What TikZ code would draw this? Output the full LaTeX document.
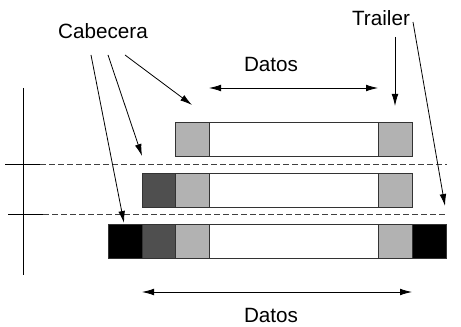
\documentclass[tikz,border=0pt]{standalone}
\usepackage{fontspec}
\setmainfont{Liberation Sans}
\usetikzlibrary{arrows.meta,positioning}

\definecolor{hdrlight}{gray}{0.70}
\definecolor{hdrdark}{gray}{0.31}

\tikzset{
  cell/.style={draw=black!80, line width=0.6pt, minimum width=25.5pt, minimum height=25.5pt, inner sep=0pt, outer sep=0pt},
  payload/.style={cell, minimum width=126.75pt, fill=white},
  lbl/.style={font=\fontsize{15.5}{18}\selectfont, inner sep=1pt},
  pointer/.style={line width=0.6pt, -{Latex[length=9pt,width=5pt]}},
  span/.style={line width=0.6pt, {Latex[length=9pt,width=5pt]}-{Latex[length=9pt,width=5pt]}},
  level/.style={dashed, dash pattern=on 4.5pt off 2.25pt, line width=0.6pt, black!75},
}

\begin{document}
\begin{tikzpicture}[x=0.75pt,y=-0.75pt]
  \useasboundingbox (0,0) rectangle (461,327);
  %labels
  \node[lbl] (cab) at (103,31) {Cabecera};
  \node[lbl] (trl) at (381,18) {Trailer};
  \node[lbl] (dtop) at (271,64) {Datos};
  \node[lbl] (dbot) at (271,315) {Datos};
  %top row
  \node[cell, fill=hdrlight] (h1) at (192.5,139) {};
  \node[payload] (p1) at (293.5,139) {};
  \node[cell, fill=hdrlight] (t1) at (395,139) {};
  %middle row
  \node[cell, fill=hdrdark] (g2) at (159,190) {};
  \node[cell, fill=hdrlight] (h2) at (192.5,190) {};
  \node[payload] (p2) at (293.5,190) {};
  \node[cell, fill=hdrlight] (t2) at (395,190) {};
  %bottom row
  \node[cell, fill=black] (b3) at (125,241) {};
  \node[cell, fill=hdrdark] (g3) at (159,241) {};
  \node[cell, fill=hdrlight] (h3) at (192.5,241) {};
  \node[payload] (p3) at (293.5,241) {};
  \node[cell, fill=hdrlight] (t3) at (395,241) {};
  \node[cell, fill=black] (e3) at (429,241) {};
  %levels
  \coordinate (ax1) at (23,88);
  \coordinate (ax2) at (23,275);
  \draw[line width=0.6pt] (ax1) -- (ax2);
  \coordinate (l1a) at (5,164);
  \coordinate (l1b) at (40,164);
  \coordinate (l1c) at (447,164);
  \coordinate (l2a) at (8,214);
  \coordinate (l2b) at (43,214);
  \coordinate (l2c) at (447,214);
  \draw[line width=0.6pt] (l1a) -- (l1b);
  \draw[level] (l1b) -- (l1c);
  \draw[line width=0.6pt] (l2a) -- (l2b);
  \draw[level] (l2b) -- (l2c);
  %spans
  \coordinate (s1a) at (209,88);
  \coordinate (s1b) at (378,88);
  \draw[span] (s1a) -- (s1b);
  \coordinate (s2a) at (142,292);
  \coordinate (s2b) at (412,292);
  \draw[span] (s2a) -- (s2b);
  %pointers
  \coordinate (c1) at (125,55);
  \coordinate (c2) at (108,55);
  \coordinate (c3) at (91,55);
  \coordinate (c1e) at (192,105);
  \coordinate (c2e) at (142,156);
  \coordinate (c3e) at (124,223);
  \draw[pointer] (c1) -- (c1e);
  \draw[pointer] (c2) -- (c2e);
  \draw[pointer] (c3) -- (c3e);
  \coordinate (r1) at (395,37);
  \coordinate (r1e) at (395,106);
  \coordinate (r2) at (413,22);
  \coordinate (r2e) at (445,206);
  \draw[pointer] (r1) -- (r1e);
  \draw[pointer] (r2) -- (r2e);
\end{tikzpicture}
\end{document}
